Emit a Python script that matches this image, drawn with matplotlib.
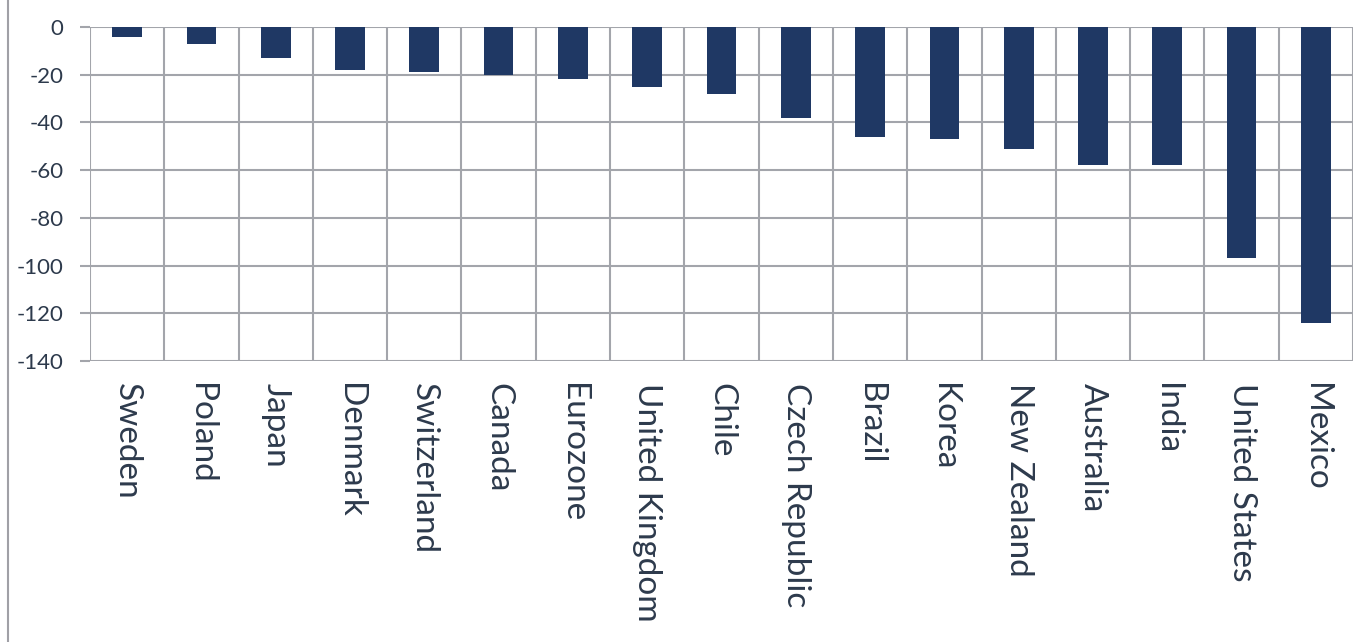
import matplotlib.pyplot as plt
from matplotlib.lines import Line2D

plt.rcParams['font.family'] = ['Lato', 'DejaVu Sans']

countries = ['Sweden', 'Poland', 'Japan', 'Denmark', 'Switzerland', 'Canada',
             'Eurozone', 'United Kingdom', 'Chile', 'Czech Republic', 'Brazil',
             'Korea', 'New Zealand', 'Australia', 'India', 'United States', 'Mexico']
values = [-4, -7, -13, -18, -19, -20, -22, -25, -28, -38, -46, -47, -51, -58, -58, -97, -124]
yticks = [0, -20, -40, -60, -80, -100, -120, -140]

bar_color = '#1f3864'
grid_color = '#a3a5ab'
text_color = '#2d3a4c'

fig = plt.figure(figsize=(13.57, 6.42), dpi=100)
ax = fig.add_axes([90 / 1357, 1 - 361 / 642, 1263 / 1357, 334 / 642])

x = range(len(countries))
ax.bar(x, values, width=0.4, color=bar_color, zorder=3)

ax.set_xlim(-0.5, len(countries) - 0.5)
ax.set_ylim(-140, 0)
ax.set_yticks(yticks)
ax.set_yticklabels([str(v) for v in yticks], fontsize=16, color=text_color)

# vertical lines between categories
for b in range(len(countries) + 1):
    ax.axvline(b - 0.5, color=grid_color, lw=1.5, zorder=1)
for t in yticks:
    ax.axhline(t, color=grid_color, lw=1.5, zorder=1)

ax.set_xticks(list(x))
ax.set_xticklabels(countries, rotation=-90, fontsize=24, color=text_color,
                   va='top', ha='center')
ax.tick_params(axis='x', length=0, pad=16)
ax.tick_params(axis='y', length=7, color=grid_color, width=1.5, pad=12)

for s in ax.spines.values():
    s.set_visible(False)

# border line at the left of the picture
fig.add_artist(Line2D([8 / 1357, 8 / 1357], [0, 1], color='#a0a0a6', lw=1.5))

fig.savefig('out.png', dpi=100, facecolor='white')
